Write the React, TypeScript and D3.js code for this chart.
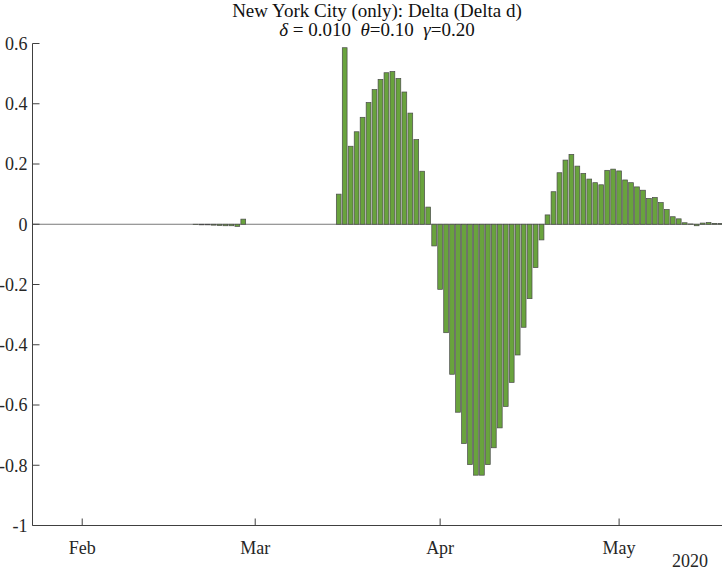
import React from "react";
import * as d3 from "d3";

// daily Delta(Delta d) values, New York City, 2020-01-24 .. 2020-05-18
const startDay = "2020-01-24";
const janTail = [0, 0, 0, 0, 0, 0, 0, 0];
const febValues = [
  0, 0, 0, 0, 0, 0, 0, 0, 0, 0, 0, 0, 0, 0, 0, 0, 0, 0, 0,
  -0.001, -0.002, -0.002, -0.003, -0.004, -0.005, -0.005, -0.007, 0.017, 0,
];
const marValues = [
  0, 0, 0, 0, 0, 0, 0, 0, 0, 0, 0, 0, 0, 0,
  0.1, 0.586, 0.259, 0.307, 0.355, 0.404, 0.447, 0.481, 0.503, 0.507, 0.484,
  0.439, 0.369, 0.281, 0.176, 0.057, -0.072,
];
const aprValues = [
  -0.216, -0.36, -0.498, -0.624, -0.728, -0.798, -0.833, -0.833, -0.798, -0.742,
  -0.676, -0.605, -0.525, -0.434, -0.342, -0.247, -0.144, -0.052, 0.031, 0.108,
  0.171, 0.213, 0.232, 0.193, 0.169, 0.15, 0.138, 0.131, 0.179, 0.183,
];
const mayValues = [
  0.177, 0.147, 0.138, 0.124, 0.113, 0.086, 0.089, 0.072, 0.049, 0.025,
  0.018, 0.005, 0.001, -0.005, 0.004, 0.006, 0.003, 0.002,
];

const yTicks = [-1, -0.8, -0.6, -0.4, -0.2, 0, 0.2, 0.4, 0.6];
const monthTicks = ["2020-02-01", "2020-03-01", "2020-04-01", "2020-05-01"];
const monthLabels = ["Feb", "Mar", "Apr", "May"];

const W = 722;
const H = 570;
const DAY = 86400000;
const font = "'Liberation Serif', 'Times New Roman', serif";

export default function App() {
  const parse = d3.utcParse("%Y-%m-%d");
  const values = [...janTail, ...febValues, ...marValues, ...aprValues, ...mayValues];
  const t0 = parse(startDay)!.getTime();
  const data = values.map((v, i) => ({ date: new Date(t0 + i * DAY), v }));

  const plot = { left: 32.5, right: 722, top: 43.5, bottom: 525.5 };

  // x limits: Jan 23 16:00 .. May 18 06:00
  const x = d3
    .scaleUtc()
    .domain([new Date(Date.UTC(2020, 0, 23, 16)), new Date(Date.UTC(2020, 4, 18, 6))])
    .range([plot.left, plot.right]);
  const y = d3.scaleLinear().domain([-1, 0.6]).range([plot.bottom, plot.top]);

  const half = 0.4 * DAY;
  const tickLen = 7;
  const axisColor = "#404040";

  return (
    <svg
      width={W}
      height={H}
      style={{ position: "absolute", left: 0, top: 0, background: "white" }}
      fontFamily={font}
    >
      <defs>
        <clipPath id="plot-clip">
          <rect x={plot.left} y={0} width={plot.right - plot.left} height={H} />
        </clipPath>
      </defs>

      {/* title */}
      <text x={377} y={17} textAnchor="middle" fontSize={19} fill="#111">
        New York City (only): Delta (Delta d)
      </text>
      <text x={377} y={36} textAnchor="middle" fontSize={19} fill="#111" style={{ whiteSpace: "pre" }}>
        <tspan fontStyle="italic">δ</tspan>
        <tspan>{" = 0.010  "}</tspan>
        <tspan fontStyle="italic">θ</tspan>
        <tspan>{"=0.10  "}</tspan>
        <tspan fontStyle="italic">γ</tspan>
        <tspan>=0.20</tspan>
      </text>

      {/* bars */}
      <g clipPath="url(#plot-clip)">
        <line x1={plot.left} x2={plot.right} y1={y(0)} y2={y(0)} stroke="#7a7a7a" strokeWidth={1} />
        {data.map((d, i) => {
          const x0 = x(new Date(d.date.getTime() - half));
          const x1 = x(new Date(d.date.getTime() + half));
          const yTop = Math.min(y(d.v), y(0));
          const h = Math.abs(y(d.v) - y(0));
          return (
            <rect
              key={i}
              x={x0}
              y={yTop}
              width={x1 - x0}
              height={h}
              fill="#69a33d"
              stroke="#4a4a4a"
              strokeWidth={0.7}
            />
          );
        })}
      </g>

      {/* y axis */}
      <line x1={plot.left} x2={plot.left} y1={plot.top} y2={plot.bottom} stroke={axisColor} />
      {yTicks.map((t) => (
        <g key={t}>
          <line x1={plot.left} x2={plot.left + tickLen} y1={y(t)} y2={y(t)} stroke={axisColor} />
          <text x={plot.left - 5} y={y(t)} dy="0.35em" textAnchor="end" fontSize={18} fill="#262626">
            {String(t)}
          </text>
        </g>
      ))}

      {/* x axis */}
      <line x1={plot.left} x2={plot.right} y1={plot.bottom} y2={plot.bottom} stroke={axisColor} />
      {monthTicks.map((m, i) => {
        const px = x(parse(m)!);
        return (
          <g key={m}>
            <line x1={px} x2={px} y1={plot.bottom} y2={plot.bottom - tickLen} stroke={axisColor} />
            <text x={px} y={plot.bottom + 28} textAnchor="middle" fontSize={18} fill="#262626">
              {monthLabels[i]}
            </text>
          </g>
        );
      })}
      <text x={708} y={567} textAnchor="end" fontSize={18} fill="#262626">
        2020
      </text>
    </svg>
  );
}
